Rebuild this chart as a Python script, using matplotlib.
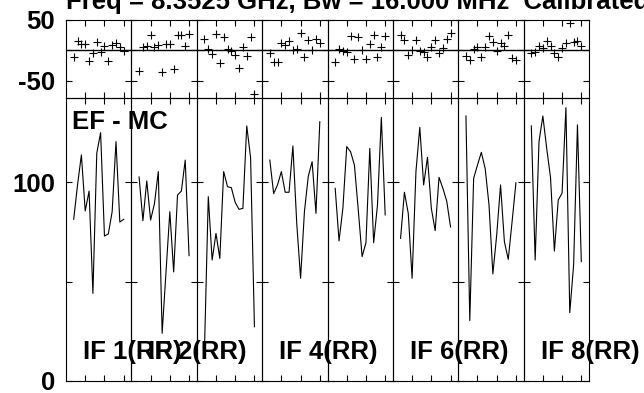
import numpy as np
import matplotlib
matplotlib.use('Agg')
import matplotlib.pyplot as plt

plt.rcParams['font.family'] = ['Liberation Sans', 'DejaVu Sans']

# channels plotted in every IF panel
chans = list(range(2, 16))

# amplitude (lower row)
amp_if1 = [81.4, 98.7, 113.8, 85.6, 95.6, 44.1, 114.6, 125.0, 73.0, 74.0, 85.2, 120.5, 80.0, 81.4]
amp_if2 = [102.7, 80.7, 100.7, 81.0, 89.3, 105.4, 24.0, 54.7, 85.2, 54.9, 93.6, 95.6, 111.2, 63.1]
amp_if3 = [15.0, 92.8, 60.9, 74.3, 61.7, 105.4, 97.8, 97.3, 89.9, 86.4, 86.9, 128.4, 112.4, 27.3]
amp_if4 = [111.2, 94.3, 98.7, 105.4, 95.0, 95.0, 118.3, 79.4, 51.7, 85.2, 103.0, 110.4, 84.4, 130.5]
amp_if5 = [97.0, 70.5, 86.9, 118.0, 115.4, 108.7, 86.1, 62.6, 69.6, 117.1, 69.6, 88.6, 132.7, 83.6]
amp_if6 = [71.8, 95.0, 84.4, 51.7, 105.4, 127.7, 98.7, 112.6, 86.9, 75.7, 102.5, 97.0, 90.6, 77.5]
amp_if7 = [133.4, 30.4, 102.0, 108.7, 115.1, 107.0, 88.6, 53.9, 73.5, 98.7, 70.1, 61.2, 80.2, 99.8]
amp_if8 = [128.4, 60.9, 120.5, 133.4, 117.1, 102.3, 65.4, 91.1, 94.6, 137.6, 34.4, 58.4, 128.9, 60.1]

# phase (upper row)
phs_if1 = [-10.8, 15.0, 9.1, 9.1, -17.2, -5.4, 13.4, -2.7, 7.0, -17.2, 8.1, 10.8, 5.4, -1.6]
phs_if2 = [-35.0, 5.4, 6.5, 25.3, 5.4, 8.1, -36.6, 9.1, 9.1, -31.2, 25.3, 25.3, 7.0, 26.9]
phs_if3 = [18.8, 1.1, -7.0, 26.9, -21.5, 21.5, 1.1, -1.1, -8.1, -29.6, 5.4, -9.7, 21.5, -71.5]
phs_if4 = [-5.4, -18.8, -18.8, 10.8, 8.1, 15.6, 0.0, 1.1, 28.0, -11.8, 16.1, 0.0, 17.7, 11.8]
phs_if5 = [-19.9, 1.1, -1.1, -3.8, 23.1, -14.5, 21.5, 0.0, -14.0, 9.1, 24.7, -11.8, 5.4, 22.6]
phs_if6 = [25.3, 17.2, -8.1, 0.0, 17.2, -1.1, -2.7, -11.8, 5.4, 17.2, -5.4, 2.7, 18.8, 28.0]
phs_if7 = [-9.7, -16.1, 1.1, 5.4, -10.8, 5.4, 23.1, 12.4, -1.6, 10.8, 7.0, 25.3, -12.4, -16.1]
phs_if8 = [-5.4, -3.8, 6.5, 2.7, 15.0, 7.0, -5.4, -10.8, 2.7, 11.8, 44.1, 13.4, 15.0, 6.5]

amps = [amp_if1, amp_if2, amp_if3, amp_if4, amp_if5, amp_if6, amp_if7, amp_if8]
phss = [phs_if1, phs_if2, phs_if3, phs_if4, phs_if5, phs_if6, phs_if7, phs_if8]

if_labels = {0: 'IF 1(RR)', 1: 'IF 2(RR)', 3: 'IF 4(RR)', 5: 'IF 6(RR)', 7: 'IF 8(RR)'}
title = 'Freq = 8.3525 GHz, Bw = 16.000 MHz  Calibrated'

W, H = 644, 393
fs = 18.5

fig = plt.figure(figsize=(W / 100, H / 100), dpi=100)
gs = fig.add_gridspec(2, 8, left=66 / W, right=589 / W, top=1 - 19.5 / H, bottom=1 - 381 / H,
                      height_ratios=[78.8, 282.7], wspace=0, hspace=0)

for i in range(8):
    axp = fig.add_subplot(gs[0, i])
    axa = fig.add_subplot(gs[1, i])
    axp.plot(chans, phss[i], '+', color='k', ms=6, mew=0.8)
    axp.axhline(0, color='k', lw=1.0)
    axa.plot(chans, amps[i], '-', color='k', lw=0.8)
    axp.set_ylim(-79, 50)
    axp.set_yticks([-50, 0, 50])
    axa.set_ylim(0, 142.3)
    axa.set_yticks([0, 50, 100])
    for ax in (axp, axa):
        ax.set_facecolor('none')
        ax.set_xlim(0, 17)
        ax.set_xticks([5, 10, 15])
        ax.tick_params(direction='in', top=True, right=True, length=4, width=0.8,
                       labelbottom=False, labelleft=False, pad=8)
        for s in ax.spines.values():
            s.set_linewidth(0.8)
    if i == 0:
        axp.set_yticklabels(['-50', '', '50'])
        axa.set_yticklabels(['0', '', '100'])
        for ax in (axp, axa):
            ax.tick_params(labelleft=True, labelsize=fs)
            for t in ax.get_yticklabels():
                t.set_fontweight('bold')
        axa.text(0.092, 0.891, 'EF - MC', transform=axa.transAxes, fontsize=fs,
                 fontweight='bold', va='baseline', ha='left', zorder=5)
    if i in if_labels:
        axa.text(0.26, 0.078, if_labels[i], transform=axa.transAxes, fontsize=fs,
                 fontweight='bold', va='baseline', ha='left', clip_on=False, zorder=5)

fig.text(66 / W, 1 - 9 / H, title, fontsize=fs, fontweight='bold', va='baseline', ha='left')

fig.savefig('out.png', dpi=100)
